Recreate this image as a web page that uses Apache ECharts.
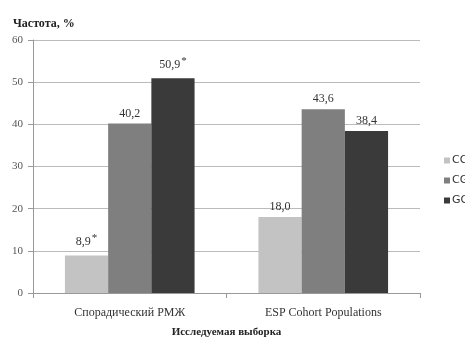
<!DOCTYPE html>
<html>
<head>
<meta charset="utf-8">
<script src="https://cdn.jsdelivr.net/npm/echarts@6/dist/echarts.min.js"></script>
<style>
  html, body { margin: 0; padding: 0; background: #fff; }
  #chart { width: 465px; height: 338px; }
</style>
</head>
<body>
<div id="chart"></div>
<script>
var categories = ['Спорадический РМЖ', 'ESP Cohort Populations'];
var seriesNames = ['CC', 'CG', 'GG'];
var ccValues = [8.9, 18.0];
var cgValues = [40.2, 43.6];
var ggValues = [50.9, 38.4];
// which bars carry the significance star
var ccStars = [true, false];
var cgStars = [false, false];
var ggStars = [true, false];

var colors = ['#c3c3c3', '#7f7f7f', '#3a3a3a'];
var font = '"Liberation Serif", "DejaVu Serif", serif';

function makeSeries(name, values, stars, color) {
    return {
        name: name,
        type: 'bar',
        barGap: '0%',
        barCategoryGap: '33%',
        itemStyle: { color: color },
        label: {
            show: true,
            position: 'top',
            distance: 4,
            fontFamily: font,
            fontSize: 12,
            color: '#333',
            formatter: function (p) {
                var txt = p.value.toFixed(1).replace('.', ',');
                return stars[p.dataIndex] ? txt + '{s|*}' : txt;
            },
            rich: {
                s: { fontFamily: font, fontSize: 11, color: '#333', verticalAlign: 'top', padding: [0, 0, 8, 1] }
            }
        },
        data: values
    };
}

var chart = echarts.init(document.getElementById('chart'));
chart.setOption({
    animation: false,
    textStyle: { fontFamily: font },
    title: {
        text: 'Частота, %',
        left: 8,
        top: 13,
        textStyle: { fontFamily: font, fontSize: 12, fontWeight: 'bold', color: '#222' }
    },
    legend: {
        orient: 'vertical',
        left: 439,
        top: 150,
        itemWidth: 6,
        itemHeight: 6,
        itemGap: 9,
        icon: 'rect',
        textStyle: { fontFamily: '"DejaVu Sans", sans-serif', fontSize: 11, color: '#333', padding: [0, 0, 0, -3] },
        data: seriesNames
    },
    grid: { left: 33, right: 45, top: 40, bottom: 45, containLabel: false, outerBoundsMode: 'none' },
    xAxis: {
        type: 'category',
        data: categories,
        name: 'Исследуемая выборка',
        nameLocation: 'middle',
        nameGap: 34,
        nameTextStyle: { fontFamily: font, fontSize: 11, fontWeight: 'bold', color: '#222' },
        axisLine: { lineStyle: { color: '#999' } },
        axisTick: { show: true, length: 5, lineStyle: { color: '#999' } },
        axisLabel: { fontFamily: font, fontSize: 12, color: '#333', margin: 14 }
    },
    yAxis: {
        type: 'value',
        min: 0,
        max: 60,
        interval: 10,
        axisLine: { show: true, lineStyle: { color: '#999' } },
        axisTick: { show: true, length: 5, lineStyle: { color: '#999' } },
        axisLabel: { fontFamily: font, fontSize: 11, color: '#555', margin: 10 },
        splitLine: { lineStyle: { color: '#bbb' } }
    },
    series: [
        makeSeries(seriesNames[0], ccValues, ccStars, colors[0]),
        makeSeries(seriesNames[1], cgValues, cgStars, colors[1]),
        makeSeries(seriesNames[2], ggValues, ggStars, colors[2])
    ]
});
</script>
</body>
</html>
